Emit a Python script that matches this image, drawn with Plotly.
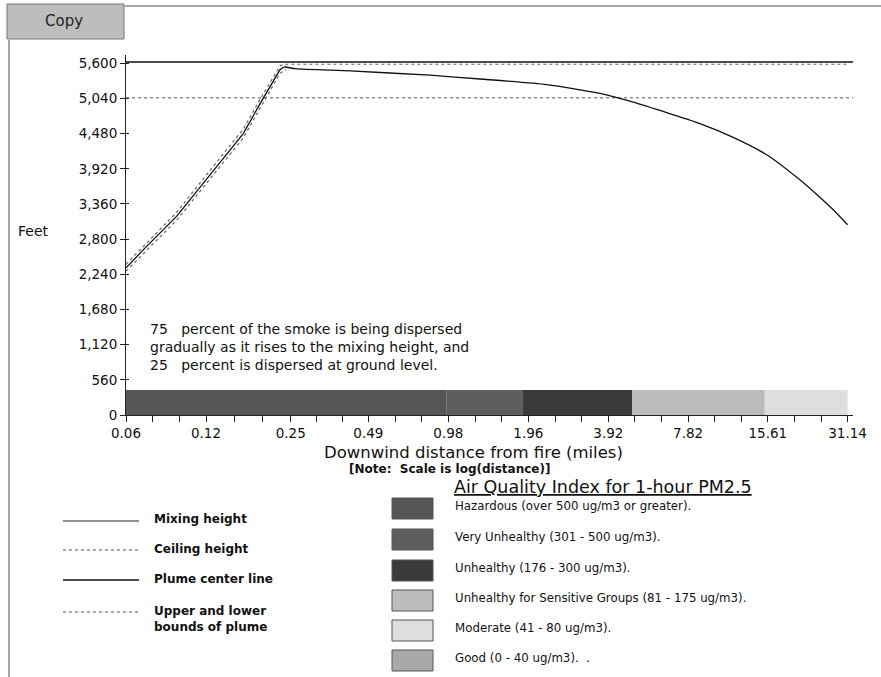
import math
import plotly.graph_objects as go

# ---------------- data ----------------
x_tick_labels = ["0.06", "0.12", "0.25", "0.49", "0.98", "1.96", "3.92", "7.82", "15.61", "31.14"]
x_tick_values = [0.06, 0.12, 0.25, 0.49, 0.98, 1.96, 3.92, 7.82, 15.61, 31.14]
y_tick_values = [0, 560, 1120, 1680, 2240, 2800, 3360, 3920, 4480, 5040, 5600]

mixing_height_ft = 5620
ceiling_height_ft = 5050

# plume center line: rising part, then gradual descent
rise_dist = [0.06, 0.0698, 0.093, 0.124, 0.166, 0.192, 0.228, 0.237]
rise_ft = [2343, 2633, 3162, 3823, 4485, 4961, 5500, 5545]
fall_dist = [0.237, 0.26, 0.418, 0.836, 1.29, 2.30, 3.65, 4.86, 8.67, 11.56, 15.5, 20.6,
             23.9, 27.5, 31.14]
fall_ft = [5545, 5515, 5478, 5410, 5350, 5260, 5120, 4980, 4640, 4420, 4140, 3744,
           3506, 3268, 3030]

upper_dist = [0.06, 0.0698, 0.093, 0.124, 0.166, 0.192, 0.228, 0.236, 31.14]
upper_ft = [2400, 2690, 3225, 3890, 4555, 5030, 5560, 5585, 5585]

lower_dist = [0.06, 0.0698, 0.093, 0.124, 0.166, 0.192, 0.228, 0.240]
lower_ft = [2290, 2575, 3100, 3755, 4415, 4890, 5440, 5500]

aqi_start = [0.06, 0.966, 1.87, 4.81, 15.2]
aqi_end = [0.966, 1.87, 4.81, 15.2, 31.14]
aqi_segment_cat = ["Hazardous", "Very Unhealthy", "Unhealthy",
                   "Unhealthy for Sensitive Groups", "Moderate"]
aqi_bar_height_ft = 400

aqi_categories = ["Hazardous", "Very Unhealthy", "Unhealthy",
                  "Unhealthy for Sensitive Groups", "Moderate", "Good"]
aqi_labels = ["Hazardous (over 500 ug/m3 or greater).",
              "Very Unhealthy (301 - 500 ug/m3).",
              "Unhealthy (176 - 300 ug/m3).",
              "Unhealthy for Sensitive Groups (81 - 175 ug/m3).",
              "Moderate (41 - 80 ug/m3).",
              "Good (0 - 40 ug/m3).  ."]
aqi_colors = ["#565656", "#5e5e5e", "#3a3a3a", "#bcbcbc", "#dedede", "#a9a9a9"]

line_legend_labels = ["Mixing height", "Ceiling height", "Plume center line",
                      "Upper and lower<br>bounds of plume"]

note_text = ("75\u00a0\u00a0 percent of the smoke is being dispersed<br>"
             "gradually as it rises to the mixing height, and<br>"
             "25\u00a0\u00a0 percent is dispersed at ground level.")

# ---------------- layout geometry ----------------
W, H = 881, 677
L, R, T, B = 126, 28, 55, 262
PW, PH = W - L - R, H - T - B
X_MIN_LOG = math.log10(0.06)
X_MAX_LOG = X_MIN_LOG + PW * (math.log10(2) / 80.0)
Y_MAX = 5732
FONT = "DejaVu Sans, Verdana, sans-serif"


def px(xp):
    return (xp - L) / PW


def py(yp):
    return (H - B - yp) / PH


fig = go.Figure()

x_edge = 10 ** X_MAX_LOG
# AQI bar segments
cat_color = dict(zip(aqi_categories, aqi_colors))
for s, e, c in zip(aqi_start, aqi_end, aqi_segment_cat):
    fig.add_trace(go.Scatter(x=[s, e, e, s, s], y=[0, 0, aqi_bar_height_ft, aqi_bar_height_ft, 0],
                             fill="toself", fillcolor=cat_color[c], mode="lines",
                             line=dict(width=0), hoverinfo="skip", showlegend=False))

# ceiling and mixing heights
fig.add_trace(go.Scatter(x=[0.06, x_edge], y=[ceiling_height_ft] * 2, mode="lines",
                         line=dict(color="#555", width=1, dash="dot"), showlegend=False))
fig.add_trace(go.Scatter(x=[0.06, x_edge], y=[mixing_height_ft] * 2, mode="lines",
                         line=dict(color="#111", width=1.5), showlegend=False))
# plume bounds
fig.add_trace(go.Scatter(x=upper_dist, y=upper_ft, mode="lines",
                         line=dict(color="#666", width=1.2, dash="dot"), showlegend=False))
fig.add_trace(go.Scatter(x=lower_dist, y=lower_ft, mode="lines",
                         line=dict(color="#666", width=1.2, dash="dot"), showlegend=False))
# plume center line
fig.add_trace(go.Scatter(x=rise_dist, y=rise_ft, mode="lines",
                         line=dict(color="#111", width=1.3), showlegend=False))
fig.add_trace(go.Scatter(x=fall_dist, y=fall_ft, mode="lines",
                         line=dict(color="#111", width=1.3, shape="spline", smoothing=0.6),
                         showlegend=False))
# dummy trace for the overlay y axis (inside tick marks)
fig.add_trace(go.Scatter(x=[0.06], y=[0], yaxis="y2", mode="markers",
                         marker=dict(opacity=0), hoverinfo="skip", showlegend=False))

# ticks: majors at labels plus two geometric subdivisions between labels
tickvals, ticktext = [], []
for i, (v, t) in enumerate(zip(x_tick_values, x_tick_labels)):
    tickvals.append(v)
    ticktext.append(t)
    if i + 1 < len(x_tick_values):
        nxt = x_tick_values[i + 1]
        for f in (1 / 3, 2 / 3):
            tickvals.append(v * (nxt / v) ** f)
            ticktext.append("")

fig.update_layout(
    width=W, height=H,
    margin=dict(l=L, r=R, t=T, b=B, pad=0),
    paper_bgcolor="white", plot_bgcolor="white",
    font=dict(family=FONT, color="#111"),
    showlegend=False,
    xaxis=dict(type="log", range=[X_MIN_LOG, X_MAX_LOG], tickmode="array",
               tickvals=tickvals, ticktext=ticktext, ticks="outside", ticklen=6,
               tickcolor="#222", showline=True, linecolor="#222", linewidth=1,
               showgrid=False, zeroline=False, tickfont=dict(size=13.5, family=FONT)),
    yaxis=dict(range=[0, Y_MAX], tickmode="array", tickvals=y_tick_values,
               tickformat=",", ticks="outside", ticklen=5, tickcolor="#222",
               showline=True, linecolor="#222", linewidth=1, showgrid=False,
               zeroline=False, tickfont=dict(size=13.5, family=FONT)),
    yaxis2=dict(range=[0, Y_MAX], overlaying="y", side="left", tickmode="array",
                tickvals=y_tick_values, ticks="inside", ticklen=3, tickcolor="#222",
                showticklabels=False, showline=False, showgrid=False, zeroline=False),
)

shapes = []
annotations = []

# frame / Copy button
shapes.append(dict(type="line", xref="paper", yref="paper", x0=px(125), x1=px(881),
                   y0=py(6), y1=py(6), line=dict(color="#888", width=1.5)))
shapes.append(dict(type="line", xref="paper", yref="paper", x0=px(9), x1=px(9),
                   y0=py(40), y1=py(677), line=dict(color="#888", width=1.5)))
shapes.append(dict(type="rect", xref="paper", yref="paper", x0=px(7), x1=px(124),
                   y0=py(39), y1=py(4), fillcolor="#bdbdbd", line=dict(color="#777", width=1)))
annotations.append(dict(xref="paper", yref="paper", x=px(64), y=py(21), text="Copy",
                        showarrow=False, font=dict(size=15, family=FONT, color="#222"),
                        xanchor="center", yanchor="middle"))

# axis titles and notes
annotations.append(dict(xref="paper", yref="paper", x=px(34), y=py(231), text="Feet",
                        showarrow=False, font=dict(size=14, family=FONT),
                        xanchor="center", yanchor="middle"))
annotations.append(dict(xref="paper", yref="paper", x=px(473), y=py(452),
                        text="Downwind distance from fire (miles)", showarrow=False,
                        font=dict(size=16.5, family=FONT), xanchor="center", yanchor="middle"))
annotations.append(dict(xref="paper", yref="paper", x=px(449), y=py(469),
                        text="<b>[Note:\u00a0 Scale is log(distance)]</b>", showarrow=False,
                        font=dict(size=12, family=FONT), xanchor="center", yanchor="middle"))
annotations.append(dict(xref="paper", yref="paper", x=px(148), y=py(347), text=note_text,
                        showarrow=False, align="left", font=dict(size=14, family=FONT),
                        xanchor="left", yanchor="middle"))

# line legend
line_styles = [dict(color="#222", width=1.2), dict(color="#555", width=1, dash="dot"),
               dict(color="#111", width=1.4), dict(color="#555", width=1, dash="dot")]
line_y = [521, 550, 580, 612]
label_y = [519, 549, 579, 619]
for lbl, st, ly, ty in zip(line_legend_labels, line_styles, line_y, label_y):
    shapes.append(dict(type="line", xref="paper", yref="paper", x0=px(63), x1=px(139),
                       y0=py(ly), y1=py(ly), line=st))
    annotations.append(dict(xref="paper", yref="paper", x=px(152), y=py(ty),
                            text="<b>" + lbl + "</b>", showarrow=False, align="left",
                            font=dict(size=12, family=FONT), xanchor="left", yanchor="middle"))

# AQI legend
annotations.append(dict(xref="paper", yref="paper", x=px(452), y=py(487),
                        text="<u>Air Quality Index for 1-hour PM2.5</u>", showarrow=False,
                        font=dict(size=17.5, family=FONT), xanchor="left", yanchor="middle"))
sw_top = [498, 529, 560, 590, 620, 650]
for i, (lbl, col) in enumerate(zip(aqi_labels, aqi_colors)):
    y0 = sw_top[i]
    shapes.append(dict(type="rect", xref="paper", yref="paper", x0=px(392), x1=px(433),
                       y0=py(y0), y1=py(y0 + 21), fillcolor=col,
                       line=dict(color="#555", width=1)))
    annotations.append(dict(xref="paper", yref="paper", x=px(453), y=py(y0 + 8),
                            text=lbl, showarrow=False, font=dict(size=11.8, family=FONT),
                            xanchor="left", yanchor="middle"))

fig.update_layout(shapes=shapes, annotations=annotations)

fig.write_html("out.html", post_script="document.body.style.margin='0';",
               config={"displayModeBar": False})
